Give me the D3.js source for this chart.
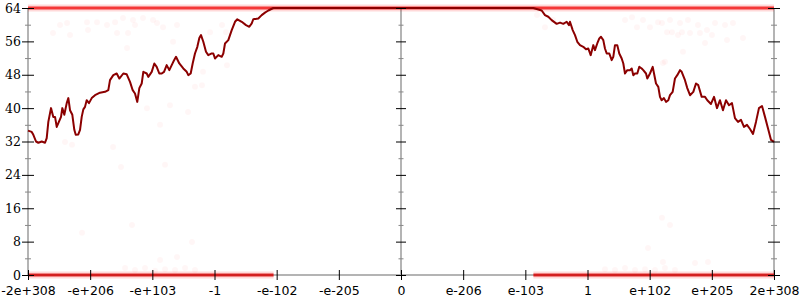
<!DOCTYPE html>
<html>
<head>
<meta charset="utf-8">
<style>
  body { margin: 0; background: #fff; }
  svg { display: block; }
  .ylab text { font-family: 'DejaVu Serif', serif; font-size: 12.5px; fill: #000; }
  .xlab text { font-family: 'DejaVu Sans', sans-serif; font-size: 12.5px; fill: #000; }
  .major line { stroke: #000; stroke-width: 1; }
  .minor line { stroke: #888; stroke-width: 1; }
  .domain { display: none; }
</style>
</head>
<body>
<svg width="800" height="300"></svg>
<script src="https://d3js.org/d3.v7.min.js"></script>
<script>
// x is measured in tick steps of the ordered float64 bit space (-6 .. 6)
let xTicks = [-6, -5, -4, -3, -2, -1, 0, 1, 2, 3, 4, 5, 6]
let xTickLabels = ["-2e+308", "-e+206", "-e+103", "-1", "-e-102", "-e-205", "0",
                   "e-206", "e-103", "1", "e+102", "e+205", "2e+308"]
let yMajor = [0, 8, 16, 24, 32, 40, 48, 56, 64]
let yMinor = [4, 12, 20, 28, 36, 44, 52, 60]

// the dark red line (bits of precision)
let lineX = [-6.000,-5.940,-5.914,-5.871,-5.834,-5.779,-5.726,-5.699,-5.673,-5.630,
  -5.593,-5.565,-5.538,-5.512,-5.469,-5.448,-5.416,-5.377,-5.351,-5.324,
  -5.287,-5.255,-5.232,-5.191,-5.163,-5.136,-5.110,-5.083,-5.056,-5.019,
  -4.975,-4.922,-4.842,-4.761,-4.708,-4.681,-4.628,-4.573,-4.531,-4.467,
  -4.412,-4.359,-4.316,-4.279,-4.242,-4.209,-4.171,-4.145,-4.090,-4.065,
  -4.010,-3.968,-3.930,-3.888,-3.849,-3.812,-3.769,-3.727,-3.663,-3.619,
  -3.566,-3.502,-3.447,-3.421,-3.383,-3.351,-3.314,-3.276,-3.244,-3.217,
  -3.180,-3.137,-3.100,-3.045,-3.019,-2.992,-2.939,-2.884,-2.858,-2.831,
  -2.778,-2.723,-2.670,-2.633,-2.562,-2.493,-2.440,-2.401,-2.376,-2.295,
  -2.241,-2.188,-2.134,-2.054,
  2.128,2.263,2.316,2.369,2.424,2.504,2.558,2.611,2.665,2.702,
  2.718,2.762,2.799,2.836,2.879,2.932,2.976,3.013,3.051,3.093,
  3.120,3.157,3.190,3.217,3.254,3.281,3.309,3.351,3.389,3.415,
  3.442,3.479,3.511,3.550,3.576,3.603,3.640,3.683,3.711,3.737,
  3.764,3.801,3.833,3.872,3.897,3.941,3.962,4.005,4.049,4.070,
  4.102,4.139,4.166,4.193,4.230,4.263,4.300,4.327,4.370,4.407,
  4.444,4.488,4.515,4.568,4.605,4.649,4.702,4.745,4.782,4.837,
  4.890,4.927,4.986,5.035,5.083,5.131,5.179,5.228,5.276,5.324,
  5.372,5.421,5.469,5.517,5.565,5.614,5.662,5.710,5.758,5.807,
  5.855,5.903,5.951,6.000]
let lineY = [34.6,34.3,33.6,32.0,31.7,32.0,31.7,32.8,36.7,40.0,
  37.9,37.9,35.5,36.4,37.9,40.0,38.4,41.2,42.4,39.5,
  38.4,34.8,33.6,33.7,34.8,37.9,39.7,40.3,41.9,41.2,
  42.4,43.1,43.7,43.9,44.3,46.7,47.9,48.3,47.1,48.3,
  48.1,46.3,44.3,43.5,41.5,44.8,45.9,48.7,48.3,47.5,
  48.7,50.7,49.9,48.3,48.3,48.7,50.3,49.1,51.1,52.3,
  50.7,49.5,48.7,47.9,48.3,50.7,53.1,54.7,56.8,57.5,
  55.9,53.5,52.7,53.1,53.1,51.9,52.7,52.3,53.1,55.5,
  56.3,58.7,60.7,61.3,60.7,59.9,59.5,60.3,61.3,61.5,
  62.3,62.9,63.4,64,
  64,63.4,62.3,61.9,61.1,60.2,60.5,60.2,60.7,59.9,
  60.7,58.7,57.5,55.9,55.1,54.7,54.1,54.3,52.7,55.1,
  53.9,55.5,56.7,57.1,56.3,54.3,53.1,53.1,51.5,52.3,
  55.1,55.1,53.1,51.9,50.7,48.3,49.1,49.1,49.5,47.9,
  48.3,48.3,49.9,49.5,49.1,48.3,47.1,48.3,49.9,48.3,
  45.9,45.1,42.7,41.9,42.4,41.5,41.9,43.1,43.9,47.1,
  47.9,49.1,48.7,46.7,44.8,43.1,43.9,45.9,45.5,42.7,
  42.7,41.9,41.0,42.7,40.0,41.9,39.5,41.9,40.7,41.2,
  37.6,36.7,37.2,35.5,36.0,35.0,33.8,36.7,40.0,40.5,
  37.9,35.2,32.4,31.9]

// dense sample rows at exact (64) and zero (0) precision
let topBandX = [-6, 6]
let topBandY = [64, 64]
let lowBandLeftX = [-6, -2.05]
let lowBandRightX = [2.13, 6]
let lowBandY = [0, 0]

// faint scattered samples
let dotX = [-5.598,-5.485,-5.372,-5.324,-5.051,-5.035,-4.890,-4.729,-4.600,-4.568,
  -4.472,-4.391,-4.311,-4.279,-4.150,-3.989,-3.925,-3.828,-3.667,-3.603,-4.407,
  3.603,3.716,3.796,3.893,4.005,4.134,4.198,4.327,4.359,4.488,4.520,4.616,4.649,
  4.777,4.809,4.922,5.002,5.051,5.212,5.244,5.340,5.501,4.536,4.246,4.890,
  -4.439,-4.279,-4.118,-3.957,-3.796,-3.635,-3.474,-3.314,-4.327,-5.131,-3.362,-3.876,-3.603,
  3.281,3.442,3.603,3.764,3.925,4.086,4.246,4.407,4.198,4.327,3.973,4.214,4.729,4.938,
  -5.405,-5.292,-4.632,-4.504,-3.796,-4.086,-3.876,-3.716,-3.426,-3.185,-3.201,-3.314,
  -2.879,-2.815,-3.072,-2.799,2.188,2.316,2.445,4.279,4.214,4.456]
let dotY = [58.0,59.9,60.4,57.5,60.6,58.7,60.6,59.9,60.6,58.0,
  61.6,58.0,61.1,59.9,61.6,61.1,60.4,59.4,55.9,59.9,54.4,
  61.1,61.8,59.4,61.1,59.4,60.6,60.4,61.1,58.2,60.4,58.2,61.1,58.0,
  59.9,58.0,58.7,57.5,60.4,59.9,56.3,60.4,56.8,53.5,51.1,55.6,
  1.7,1.2,1.7,1.0,1.4,1.2,1.7,1.2,12.0,10.1,7.9,3.6,4.3,
  1.4,1.2,1.7,1.2,1.4,1.2,1.7,1.2,13.7,12.0,6.5,3.1,2.9,3.1,
  31.9,31.2,30.7,25.9,26.4,40.0,36.0,40.7,39.1,48.7,45.5,45.1,
  59.9,58.2,58.2,50.3,62.3,59.4,61.1,58.2,50.8,57.5]

let svg = d3.select("svg")
let plotLeft = 28, plotRight = 774, plotTop = 8, plotBottom = 275

let x = d3.scaleLinear().domain([-6, 6]).range([plotLeft, plotRight])
let y = d3.scaleLinear().domain([0, 64]).range([plotBottom, plotTop])

// gray axis lines
let axisColor = "#b4b4b4"
svg.append("line").attr("x1", x(-6)).attr("x2", x(6)).attr("y1", y(0)).attr("y2", y(0))
  .attr("stroke", axisColor).attr("stroke-width", 2)
;[-6, 0, 6].forEach(v => {
  svg.append("line").attr("x1", x(v)).attr("x2", x(v)).attr("y1", y(0)).attr("y2", y(64))
    .attr("stroke", axisColor).attr("stroke-width", 2)
})

let line = d3.line().x(d => x(d[0])).y(d => y(d[1]))

// faint dots
svg.append("g").selectAll("circle")
  .data(d3.zip(dotX, dotY))
  .join("circle")
  .attr("cx", d => x(d[0]))
  .attr("cy", d => y(d[1]))
  .attr("r", 3)
  .attr("fill", "#ff0000")
  .attr("fill-opacity", 0.035)

// red bands
svg.append("path").datum(d3.zip(topBandX, topBandY)).attr("d", line)
  .attr("stroke", "#ff0000").attr("stroke-opacity", 0.15).attr("stroke-width", 7).attr("fill", "none")
svg.append("path").datum(d3.zip(topBandX, topBandY)).attr("d", line)
  .attr("stroke", "#f00000").attr("stroke-opacity", 0.75).attr("stroke-width", 3).attr("fill", "none")
;[lowBandLeftX, lowBandRightX].forEach(bx => {
  svg.append("path").datum(d3.zip(bx, lowBandY)).attr("d", line)
    .attr("stroke", "#ff0000").attr("stroke-opacity", 0.15).attr("stroke-width", 7).attr("fill", "none")
  svg.append("path").datum(d3.zip(bx, lowBandY)).attr("d", line)
    .attr("stroke", "#d80000").attr("stroke-opacity", 0.8).attr("stroke-width", 3).attr("fill", "none")
})

// main line
svg.append("path").datum(d3.zip(lineX, lineY)).attr("d", line)
  .attr("stroke", "#8b0000").attr("stroke-width", 2).attr("fill", "none")
  .attr("stroke-linejoin", "round")

// y ticks, left with labels
svg.append("g").attr("class", "ylab major").attr("transform", `translate(${x(-6) + 6},0)`)
  .call(d3.axisLeft(y).tickValues(yMajor).tickSize(12).tickPadding(1).tickFormat(d3.format("d")))
svg.append("g").attr("class", "minor").attr("transform", `translate(${x(-6) + 3},0)`)
  .call(d3.axisLeft(y).tickValues(yMinor).tickSize(6).tickFormat(""))

// y ticks, middle and right
;[[0, 5, 2.5], [6, 6, 3]].forEach(([v, maj, mn]) => {
  svg.append("g").attr("class", "major").attr("transform", `translate(${x(v) + maj},0)`)
    .call(d3.axisLeft(y).tickValues(yMajor).tickSize(maj * 2).tickFormat(""))
  svg.append("g").attr("class", "minor").attr("transform", `translate(${x(v) + mn},0)`)
    .call(d3.axisLeft(y).tickValues(yMinor).tickSize(mn * 2).tickFormat(""))
})

// x ticks
svg.append("g").attr("class", "xlab major").attr("transform", `translate(0,${y(0) - 5})`)
  .call(d3.axisBottom(x).tickValues(xTicks).tickSize(10).tickPadding(6)
    .tickFormat((d, i) => xTickLabels[i]))
</script>
</body>
</html>
